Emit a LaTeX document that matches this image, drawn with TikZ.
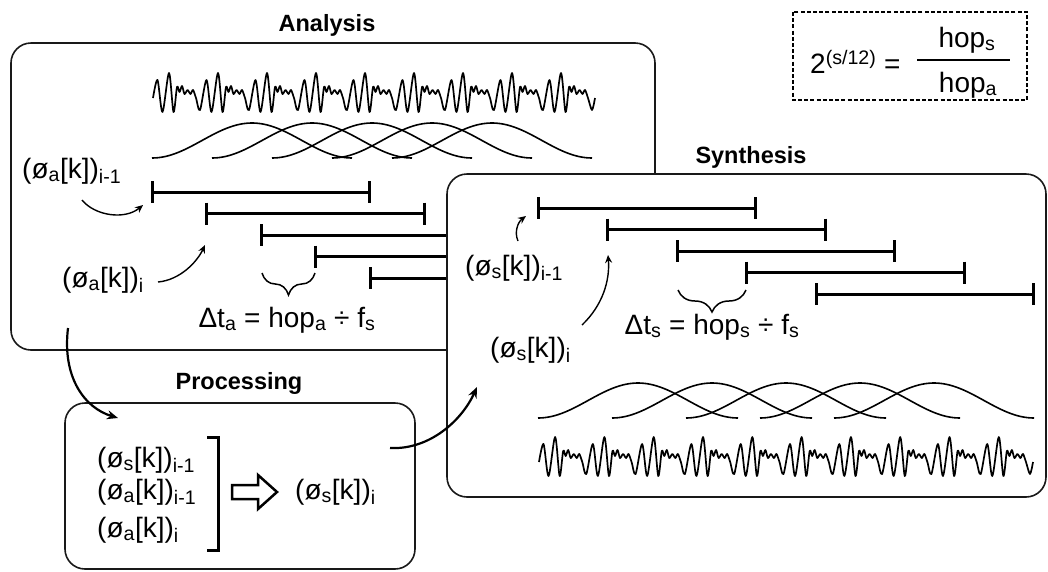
\documentclass[tikz,border=0pt]{standalone}
\usepackage{fontspec}
\setmainfont{Liberation Sans}
\usetikzlibrary{arrows.meta,decorations.pathreplacing}
\newcommand\lblfont{\fontsize{28}{33}\selectfont}
\newcommand\ttlfont{\fontsize{23.5}{28}\selectfont\bfseries}
\newcommand\myPa{(ø\textsubscript{a}[k])}
\newcommand\myPs{(ø\textsubscript{s}[k])}
% waveform builder: #1 x0, #2 centre y, #3 periods, #4 period length
\newcommand\buildwave[4]{%
  \pgfmathsetmacro\wx{#1+2}\pgfmathsetmacro\wy{#2+5}%
  \xdef\wavepts{(\wx,\wy)}%
  \foreach \k in {1,...,#3}{%
    \foreach \t/\d in {6.5/-13,11.5/19,18/-20,22.5/19,26/-6,28.5/-1,31/-7,33.5/1,36.5/-3,39.5/1,42/-3,45/5,49/17}{%
      \pgfmathsetmacro\wx{#1+(\k-1)*#4+\t*#4/49}%
      \pgfmathsetmacro\wy{#2+\d}%
      \xdef\wavepts{\wavepts (\wx,\wy)}%
    }%
  }%
  \pgfmathsetmacro\wx{#1+#3*#4+3}\pgfmathsetmacro\wy{#2+5}%
  \xdef\wavepts{\wavepts (\wx,\wy)}%
}
\newcommand\drawwave[1]{\draw[wave] plot[smooth,tension=0.5] coordinates {#1};}
\newcommand\hannwin[2]{\draw[win] plot[domain=0:200,samples=60] ({#1+\x},{#2-35*sin(0.9*\x)*sin(0.9*\x)});}
\newcommand\drawbar[3]{\draw[bar] (#1,#3) -- (#2,#3); \draw[bar] (#1,#3-11) -- (#1,#3+11); \draw[bar] (#2,#3-11) -- (#2,#3+11);}
\newcommand\drawbarL[3]{\draw[bar] (#1,#3) -- (#2,#3); \draw[bar] (#1,#3-11) -- (#1,#3+11);}
\begin{document}
\begin{tikzpicture}[x=1pt,y=-1pt,
  box/.style={draw=black!90, line width=1.6pt, rounded corners=20pt},
  lbl/.style={inner sep=0pt, font=\lblfont},
  ttl/.style={inner sep=0pt, font=\ttlfont},
  bar/.style={line width=3pt},
  win/.style={line width=1.6pt},
  wave/.style={line width=1.7pt, line join=round},
  arr/.style={line width=2.2pt, -{Stealth[length=11pt,width=9pt]}},
  thinarr/.style={line width=1.4pt, -{Stealth[length=8pt,width=7pt]}},
  bracebig/.style={line width=1.5pt, decorate, decoration={brace, amplitude=22pt, aspect=0.5}},
  dashbox/.style={line width=2.6pt, dash pattern=on 4pt off 2.2pt}
]
\useasboundingbox (0,0) rectangle (1048,571);

% ---------------- Analysis ----------------
\node[ttl] (antitle) at (327,25) {Analysis};
\draw[box] (11,43) rectangle (655,350);
\buildwave{151}{93}{9}{49}
\expandafter\drawwave\expandafter{\wavepts}
\foreach \s in {152,212,272,332,392}{\hannwin{\s}{158}}
\drawbar{152}{369}{192}
\drawbar{206}{424}{213.5}
\drawbarL{261}{600}{235}
\drawbarL{315}{600}{256.5}
\drawbarL{370}{600}{278}
\node[lbl, anchor=west] (aprev) at (22,171) {\myPa\textsubscript{i-1}};
\node[lbl, anchor=west] (acur) at (62,280) {\myPa\textsubscript{i}};
\coordinate (aprevS) at (82,200);
\coordinate (aprevE) at (143,205);
\coordinate (acurS) at (158,282);
\coordinate (acurE) at (205,245);
\draw[thinarr] (aprevS) .. controls (95,216) and (125,220) .. (aprevE);
\draw[thinarr] (acurS) .. controls (180,280) and (197,262) .. (acurE);
\draw[bracebig] (315,273) -- (262,273);
\node[lbl] (dta) at (287,320) {Δt\textsubscript{a} = hop\textsubscript{a} ÷ f\textsubscript{s}};

% ---------------- Processing ----------------
\node[ttl] (prtitle) at (239,383) {Processing};
\draw[box] (65,403) rectangle (415,569);
\node[lbl, anchor=west] (p1) at (97,460) {\myPs\textsubscript{i-1}};
\node[lbl, anchor=west] (p2) at (97,492) {\myPa\textsubscript{i-1}};
\node[lbl, anchor=west] (p3) at (97,530) {\myPa\textsubscript{i}};
\draw[line width=3pt] (207,437) -- (218,437) -- (218,550) -- (207,550);
\draw[line width=2.5pt, line join=miter] (232,485) -- (258,485) -- (258,475) -- (277,492) -- (258,509) -- (258,499) -- (232,499) -- cycle;
\node[lbl, anchor=west] (pout) at (295,492) {\myPs\textsubscript{i}};

% ---------------- Synthesis ----------------
\node[ttl] (sytitle) at (751,157) {Synthesis};
\draw[box, fill=white] (447,174) rectangle (1046,497);
\drawbar{538}{755}{208}
\drawbar{607}{825}{229.5}
\drawbar{677}{894}{251}
\drawbar{746}{964}{272.5}
\drawbar{816}{1033}{294}
\node[lbl, anchor=west] (sprev) at (465,268) {\myPs\textsubscript{i-1}};
\node[lbl, anchor=west] (scur) at (490,350) {\myPs\textsubscript{i}};
\coordinate (sprevS) at (518,241);
\coordinate (sprevE) at (526,216);
\coordinate (scurS) at (582,325);
\coordinate (scurE) at (608,255);
\draw[thinarr] (sprevS) .. controls (514,232) and (518,222) .. (sprevE);
\draw[thinarr] (scurS) .. controls (603,305) and (610,280) .. (scurE);
\draw[bracebig] (746,290) -- (678,290);
\node[lbl] (dts) at (712,327) {Δt\textsubscript{s} = hop\textsubscript{s} ÷ f\textsubscript{s}};
\foreach \s in {538,612,686,760,834}{\hannwin{\s}{418}}
\buildwave{537}{457}{10}{49.3}
\expandafter\drawwave\expandafter{\wavepts}

% ---------------- Flow arrows ----------------
\coordinate (anout) at (68,328);
\coordinate (prin) at (118,418);
\coordinate (prout) at (390,448);
\coordinate (syin) at (477,387);
\draw[arr] (anout) .. controls (62,378) and (85,408) .. (prin);
\draw[arr] (prout) .. controls (430,450) and (462,420) .. (syin);

% ---------------- Formula ----------------
\draw[dashbox] (793,12) rectangle (1027,100);
\node[lbl, anchor=west] (flhs) at (810,62) {2\textsuperscript{(s/12)} =};
\node[lbl] (fnum) at (967,40) {hop\textsubscript{s}};
\node[lbl] (fden) at (968,85) {hop\textsubscript{a}};
\coordinate (fl) at (917,60);
\coordinate (fr) at (1010,60);
\draw[line width=2.5pt] (fl) -- (fr);
\end{tikzpicture}
\end{document}
